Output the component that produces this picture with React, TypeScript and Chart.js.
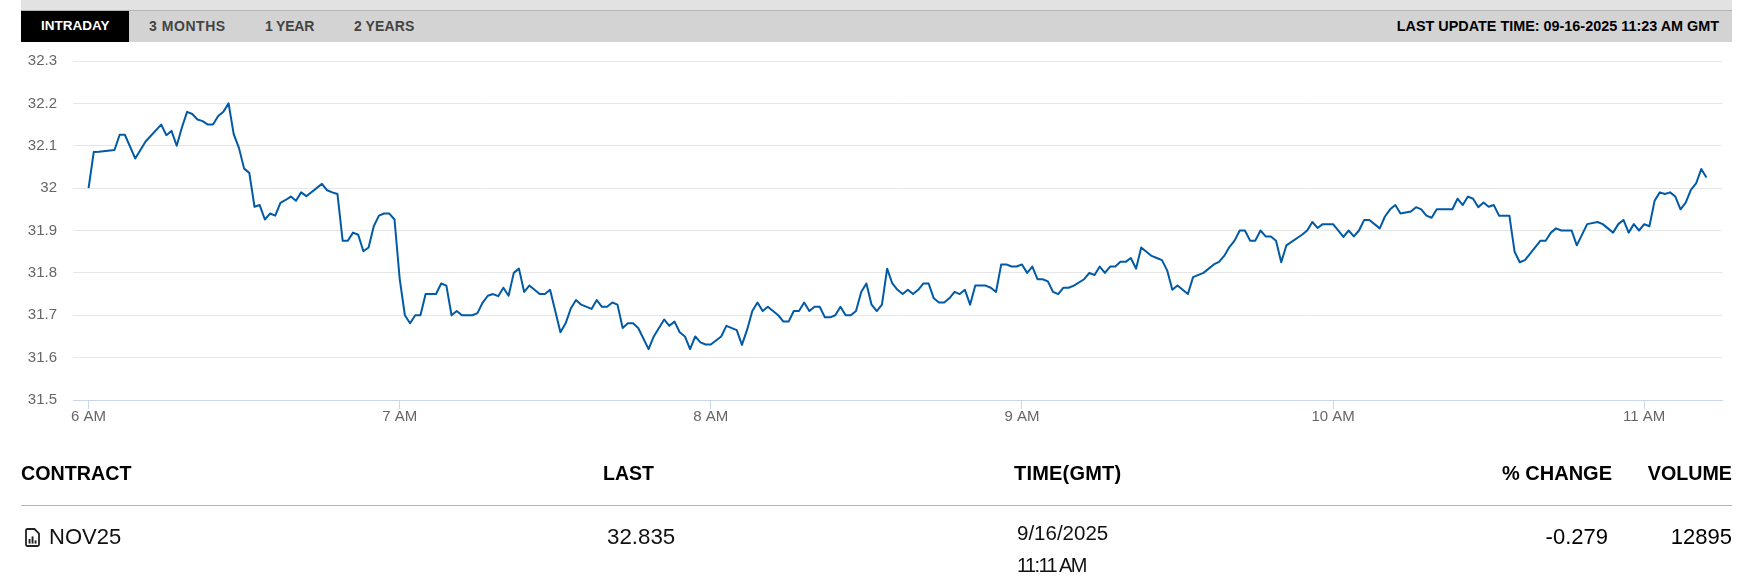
import React, { useEffect, useRef } from "react";
import { Chart, registerables } from "chart.js";

Chart.register(...registerables);

const minutes = [
  0, 1, 2, 5, 6, 7, 9, 11, 14, 15, 16, 17, 18, 19, 20, 21, 22, 23, 24, 25, 26, 27, 28, 29, 30, 31, 32, 33, 34, 35, 36, 37, 38, 39, 40, 41, 42, 45, 46, 47, 48, 49, 50, 51, 52, 53, 54, 55, 56, 57, 58, 59,
  60, 61, 62, 63, 64, 65, 66, 67, 68, 69, 70, 71, 72, 73, 74, 75, 76, 77, 78, 79, 80, 81, 82, 83, 84, 85, 86, 87, 88, 89, 91, 92, 93, 94, 95, 97, 98, 99, 100, 101, 102, 103, 104, 105, 106, 108, 109, 111, 112, 113, 114, 115, 116, 117, 118, 119,
  120, 122, 123, 125, 126, 127, 128, 129, 130, 131, 133, 134, 135, 136, 137, 138, 139, 140, 141, 142, 143, 144, 145, 146, 147, 148, 149, 150, 151, 152, 153, 154, 155, 156, 157, 158, 159, 160, 161, 162, 163, 164, 165, 166, 167, 168, 169, 170, 171, 172, 173, 174, 175, 176, 177, 178, 179,
  180, 181, 182, 183, 184, 185, 186, 187, 188, 189, 190, 192, 193, 194, 195, 196, 197, 198, 199, 200, 201, 202, 203, 204, 205, 206, 207, 208, 209, 210, 212, 213, 215, 217, 218, 219, 220, 221, 222, 223, 224, 225, 226, 227, 228, 229, 230, 231, 234, 235, 236, 237, 238,
  240, 242, 243, 244, 245, 246, 247, 249, 250, 251, 252, 253, 255, 256, 257, 258, 259, 260, 263, 264, 265, 266, 267, 268, 269, 270, 271, 272, 274, 275, 276, 277, 280, 281, 282, 283, 284, 286, 287, 289, 291, 292, 294, 295, 296, 297, 298, 299,
  300, 301, 302, 303, 304, 305, 306, 307, 308, 309, 310, 311, 312,
];

const prices = [
  32.0, 32.085, 32.086, 32.09, 32.126, 32.126, 32.07, 32.11, 32.15, 32.125, 32.135, 32.1, 32.143, 32.18, 32.175, 32.162, 32.158, 32.15, 32.15, 32.17, 32.18, 32.2, 32.127, 32.095, 32.046, 32.036, 31.956, 31.96, 31.926, 31.94, 31.935, 31.965, 31.972, 31.98, 31.97, 31.99, 31.981, 32.01, 31.995, 31.99, 31.986, 31.876, 31.876, 31.895, 31.89, 31.851, 31.86, 31.91, 31.935, 31.94, 31.94, 31.926,
  31.786, 31.7, 31.681, 31.7, 31.7, 31.75, 31.75, 31.75, 31.775, 31.77, 31.7, 31.71, 31.7, 31.7, 31.7, 31.705, 31.73, 31.746, 31.75, 31.745, 31.765, 31.746, 31.8, 31.81, 31.755, 31.77, 31.76, 31.75, 31.75, 31.76, 31.66, 31.681, 31.716, 31.736, 31.725, 31.715, 31.736, 31.72, 31.72, 31.73, 31.725, 31.67, 31.681, 31.681, 31.67, 31.62, 31.65, 31.69, 31.675, 31.685, 31.66, 31.65, 31.62, 31.65, 31.636, 31.631,
  31.631, 31.65, 31.675, 31.665, 31.63, 31.666, 31.71, 31.73, 31.71, 31.72, 31.7, 31.685, 31.685, 31.71, 31.71, 31.73, 31.71, 31.72, 31.72, 31.695, 31.695, 31.7, 31.72, 31.7, 31.7, 31.71, 31.755, 31.775, 31.725, 31.71, 31.725, 31.81, 31.775, 31.76, 31.75, 31.76, 31.75, 31.76, 31.775, 31.775, 31.74, 31.73, 31.73, 31.74, 31.755, 31.75, 31.76, 31.725, 31.77, 31.77, 31.77, 31.765, 31.755, 31.82, 31.82, 31.815, 31.815,
  31.82, 31.8, 31.815, 31.785, 31.785, 31.78, 31.755, 31.75, 31.765, 31.765, 31.77, 31.785, 31.8, 31.795, 31.815, 31.8, 31.815, 31.815, 31.826, 31.826, 31.835, 31.81, 31.86, 31.85, 31.84, 31.835, 31.83, 31.806, 31.76, 31.77, 31.75, 31.79, 31.8, 31.82, 31.826, 31.84, 31.861, 31.876, 31.9, 31.9, 31.876, 31.876, 31.9, 31.886, 31.886, 31.876, 31.825, 31.865, 31.89, 31.9, 31.92, 31.906, 31.915,
  31.915, 31.885, 31.9, 31.886, 31.9, 31.925, 31.925, 31.905, 31.933, 31.95, 31.96, 31.94, 31.945, 31.955, 31.95, 31.935, 31.93, 31.95, 31.95, 31.975, 31.96, 31.98, 31.975, 31.955, 31.966, 31.956, 31.96, 31.935, 31.935, 31.85, 31.825, 31.83, 31.876, 31.876, 31.895, 31.905, 31.9, 31.9, 31.865, 31.915, 31.92, 31.915, 31.895, 31.915, 31.925, 31.895, 31.915, 31.9,
  31.915, 31.91, 31.97, 31.99, 31.986, 31.99, 31.98, 31.95, 31.966, 31.996, 32.011, 32.045, 32.025,
];

const hourTicks = [0, 60, 120, 180, 240, 300];
const hourLabels = ["6 AM", "7 AM", "8 AM", "9 AM", "10 AM", "11 AM"];
const priceTicks = [31.5, 31.6, 31.7, 31.8, 31.9, 32, 32.1, 32.2, 32.3];
const priceLabels = ["31.5", "31.6", "31.7", "31.8", "31.9", "32", "32.1", "32.2", "32.3"];

const tabs = [
  { label: "3 MONTHS", left: 149, spacing: 0.55 },
  { label: "1 YEAR", left: 265, spacing: -0.2 },
  { label: "2 YEARS", left: 354, spacing: 0.1 },
];

const FONT = '"Liberation Sans", Arial, sans-serif';

const place = (left: number, cy: number, size: number, bold: boolean, color = "#000"): React.CSSProperties => ({
  position: "absolute",
  left,
  top: cy - 15,
  height: 30,
  lineHeight: "30px",
  fontSize: size,
  fontWeight: bold ? 700 : 400,
  color,
  whiteSpace: "nowrap",
});

const placeRight = (right: number, cy: number, size: number, bold: boolean): React.CSSProperties => ({
  position: "absolute",
  right: 1750 - right,
  top: cy - 15,
  height: 30,
  lineHeight: "30px",
  fontSize: size,
  fontWeight: bold ? 700 : 400,
  color: "#000",
  whiteSpace: "nowrap",
});

export default function App() {
  const ref = useRef<HTMLCanvasElement>(null);

  useEffect(() => {
    const chart = new Chart(ref.current!, {
      type: "line",
      data: {
        datasets: [
          {
            data: minutes.map((m, i) => ({ x: m, y: prices[i] })),
            borderColor: "#005aa6",
            borderWidth: 2,
            pointRadius: 0,
            tension: 0,
            borderJoinStyle: "round",
            fill: false,
          },
        ],
      },
      options: {
        animation: false,
        responsive: false,
        devicePixelRatio: 1,
        layout: { padding: { top: 61, right: 28, left: 0, bottom: 0 } },
        plugins: { legend: { display: false }, tooltip: { enabled: false } },
        scales: {
          x: {
            type: "linear",
            min: -3,
            max: 315,
            afterBuildTicks: (s: any) => {
              s.ticks = hourTicks.map((value) => ({ value }));
            },
            afterFit: (s: any) => {
              s.height = 177;
            },
            border: { color: "#ccd6eb", width: 1 },
            grid: { drawOnChartArea: false, drawTicks: true, tickLength: 9, color: "#ccd6eb" },
            ticks: {
              autoSkip: false,
              maxRotation: 0,
              padding: -1,
              color: "#666666",
              font: { family: FONT, size: 15 },
              callback: (v: any) => hourLabels[hourTicks.indexOf(Number(v))] ?? "",
            },
          },
          y: {
            min: 31.5,
            max: 32.3,
            afterBuildTicks: (s: any) => {
              s.ticks = priceTicks.map((value) => ({ value }));
            },
            afterFit: (s: any) => {
              s.width = 73;
            },
            border: { display: false },
            grid: { color: "#e6e6e6", lineWidth: 1, drawTicks: false },
            ticks: {
              padding: 16,
              color: "#666666",
              font: { family: FONT, size: 15 },
              callback: (v: any) => priceLabels[priceTicks.findIndex((t) => Math.abs(t - Number(v)) < 0.001)] ?? "",
            },
          },
        },
      },
    } as any);
    return () => chart.destroy();
  }, []);

  return (
    <div style={{ position: "fixed", left: 0, top: 0, width: 1750, height: 577, overflow: "hidden", background: "#fff", fontFamily: FONT }}>
      <canvas ref={ref} width={1750} height={577} style={{ position: "absolute", left: 0, top: 0, width: 1750, height: 577 }} />

      <div style={{ position: "absolute", left: 21, top: 0, width: 1711, height: 10, background: "#e2e2e2" }} />
      <div style={{ position: "absolute", left: 21, top: 10, width: 1711, height: 32, background: "#d3d3d3", borderTop: "1px solid #b4b4b4", boxSizing: "border-box" }} />
      <div style={{ position: "absolute", left: 21, top: 11, width: 108, height: 31, background: "#000" }} />
      <div style={place(41, 26, 13.5, true, "#fff")}>INTRADAY</div>
      {tabs.map((t) => (
        <div key={t.label} style={{ ...place(t.left, 26, 14, true, "#444"), letterSpacing: t.spacing }}>
          {t.label}
        </div>
      ))}
      <div style={placeRight(1719, 26, 14.4, true)}>LAST UPDATE TIME: 09-16-2025 11:23 AM GMT</div>

      <div style={place(21, 473, 19.7, true)}>CONTRACT</div>
      <div style={place(603, 473, 19.5, true)}>LAST</div>
      <div style={{ ...place(1014, 473, 20, true), letterSpacing: 0.2 }}>TIME(GMT)</div>
      <div style={placeRight(1612, 473, 20, true)}>% CHANGE</div>
      <div style={placeRight(1732, 473, 19.7, true)}>VOLUME</div>
      <div style={{ position: "absolute", left: 21, top: 505, width: 1711, height: 1, background: "#b4b4b4" }} />

      <svg style={{ position: "absolute", left: 25, top: 528 }} width={15} height={19} viewBox="0 0 15 19">
        <path d="M1 2.5 Q1 1 2.5 1 H9.5 L14 5.5 V16.5 Q14 18 12.5 18 H2.5 Q1 18 1 16.5 Z" fill="none" stroke="#222" strokeWidth={1.8} />
        <rect x="3.6" y="11" width="1.9" height="4.6" fill="#222" />
        <rect x="6.6" y="8.4" width="1.9" height="7.2" fill="#222" />
        <rect x="9.6" y="12.4" width="1.9" height="3.2" fill="#222" />
      </svg>
      <div style={place(49, 537, 22, false, "#111")}>NOV25</div>
      <div style={place(607, 537, 22.3, false, "#111")}>32.835</div>
      <div style={place(1017, 533, 20.5, false, "#111")}>9/16/2025</div>
      <div style={{ ...place(1017, 565, 20, false, "#111"), letterSpacing: -1.6 }}>11:11 AM</div>
      <div style={placeRight(1608, 537, 22, false)}>-0.279</div>
      <div style={placeRight(1732, 537, 22, false)}>12895</div>
    </div>
  );
}
